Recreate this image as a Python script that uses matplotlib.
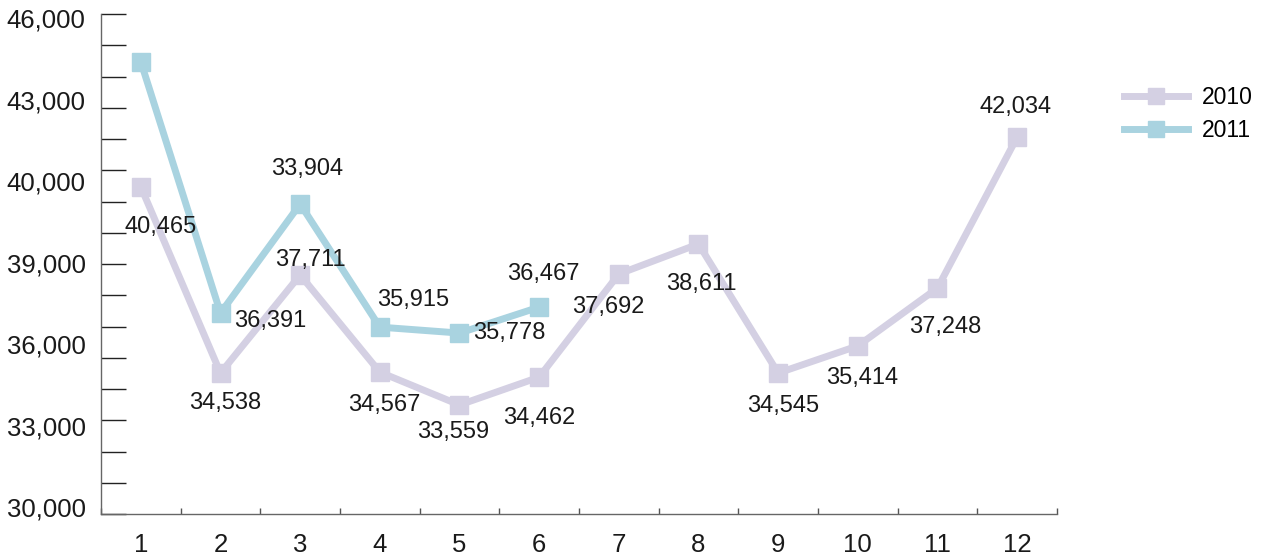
import numpy as np
import matplotlib
matplotlib.use("Agg")
import matplotlib.pyplot as plt
from matplotlib.ticker import FixedLocator, NullFormatter

plt.rcParams['font.family'] = ['Liberation Sans', 'DejaVu Sans']

# months on the x axis
months = ['1', '2', '3', '4', '5', '6', '7', '8', '9', '10', '11', '12']

# y axis labels as printed in the source (they are not evenly valued)
ytick_labels = ['30,000', '33,000', '36,000', '39,000', '40,000', '43,000', '46,000']

# point heights, in the chart's own tick units (0..16)
pos_2010 = [10.47, 4.51, 7.65, 4.54, 3.49, 4.38, 7.68, 8.64, 4.51, 5.38, 7.23, 12.06]
pos_2011 = [14.47, 6.43, 9.92, 5.98, 5.79, 6.62]

# data labels as printed next to the points
lab_2010 = ['40,465', '34,538', '37,711', '34,567', '33,559', '34,462',
            '37,692', '38,611', '34,545', '35,414', '37,248', '42,034']
lab_2011 = [None, '36,391', '33,904', '35,915', '35,778', '36,467']

# label offsets in pixels (dx right, dy up)
off_2010 = [(20, -40), (5, -30), (10, 15), (4, -33), (-6, -27), (0, -41),
            (-11, -33), (3, -40), (5, -33), (4, -32), (8, -39), (-2, 30)]
off_2011 = [None, (50, -8), (7, 35), (33, 27), (50, 0), (4, 33)]

c2010 = '#D4D0E3'
c2011 = '#A9D3E0'

fig = plt.figure(figsize=(12.64, 5.57), dpi=100)
ax = fig.add_axes([101 / 1264, 43 / 557, (1057 - 101) / 1264, (514 - 14) / 557])

x10 = np.arange(len(pos_2010)) + 0.5
x11 = np.arange(len(pos_2011)) + 0.5

ax.plot(x10, pos_2010, color=c2010, lw=5, marker='s', ms=13.5, mec=c2010, label='2010')
ax.plot(x11, pos_2011, color=c2011, lw=5, marker='s', ms=13.5, mec=c2011, label='2011')

for x, y, t, o in zip(x10, pos_2010, lab_2010, off_2010):
    ax.annotate(t, (x, y), xytext=o, textcoords='offset pixels',
                ha='center', va='center', fontsize=17, color='#1a1a1a')
for x, y, t, o in zip(x11, pos_2011, lab_2011, off_2011):
    if t is None:
        continue
    ax.annotate(t, (x, y), xytext=o, textcoords='offset pixels',
                ha='center', va='center', fontsize=17, color='#1a1a1a')

ax.set_xlim(0, 12)
ax.set_ylim(0, 16)

# tick marks on the grid, labels placed separately
ax.xaxis.set_minor_locator(FixedLocator(np.arange(0, 13)))
ax.yaxis.set_minor_locator(FixedLocator(np.arange(0, 17)))
ax.xaxis.set_minor_formatter(NullFormatter())
ax.yaxis.set_minor_formatter(NullFormatter())
ax.set_xticks(x10)
ax.set_xticklabels(months)
ax.set_yticks(np.linspace(0.22, 15.87, len(ytick_labels)))
ax.set_yticklabels(ytick_labels)

ax.tick_params(axis='both', which='major', length=0, labelsize=18.5, labelcolor='#1a1a1a')
ax.tick_params(axis='x', which='major', pad=14)
ax.tick_params(axis='y', which='major', pad=11)
ax.tick_params(axis='y', which='minor', direction='in', length=18, width=1, color='#222222')
ax.tick_params(axis='x', which='minor', direction='in', length=4, width=1, color='#555555')

for s in ['top', 'right']:
    ax.spines[s].set_visible(False)
for s in ['left', 'bottom']:
    ax.spines[s].set_color('#666666')
    ax.spines[s].set_linewidth(1)

leg = fig.legend(loc='center left', bbox_to_anchor=(1124 / 1264, 1 - 114 / 557),
                 frameon=False, fontsize=16.5, handlelength=2.8, handletextpad=0.6,
                 labelspacing=0.45, borderpad=0, borderaxespad=0, markerscale=0.85)

fig.savefig('out.png', dpi=100)
